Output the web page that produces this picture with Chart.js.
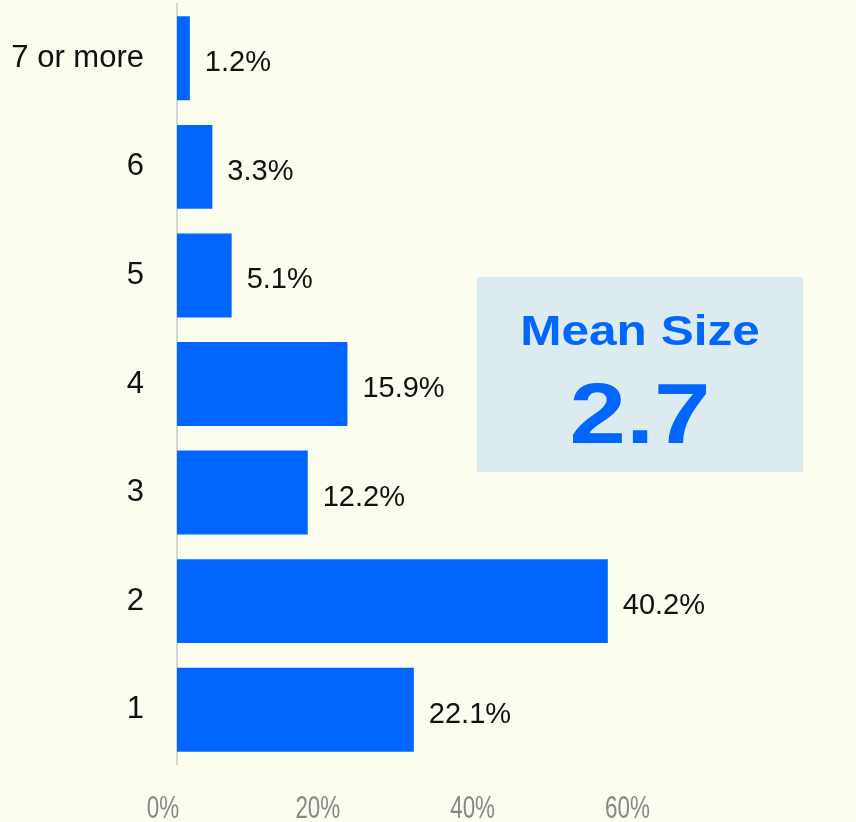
<!DOCTYPE html>
<html>
<head>
<meta charset="utf-8">
<script src="https://cdn.jsdelivr.net/npm/chart.js@4"></script>
<style>
  html, body { margin: 0; padding: 0; background: #fbfdef; }
  #wrap { position: relative; width: 856px; height: 822px; }
</style>
</head>
<body>
<div id="wrap"><canvas id="sizeChart" width="856" height="822"></canvas></div>
<script>
// household size categories, top to bottom
const categories = ['7 or more', '6', '5', '4', '3', '2', '1'];
const shares = [1.2, 3.3, 5.1, 15.9, 12.2, 40.2, 22.1];
const tickValues = [0, 20, 40, 60];
const meanLabel = 'Mean Size';
const meanValue = '2.7';

const BLUE = '#0066ff';

// value labels at the end of each bar
const valueLabels = {
  id: 'valueLabels',
  afterDatasetsDraw(chart) {
    const ctx = chart.ctx;
    const meta = chart.getDatasetMeta(0);
    ctx.save();
    ctx.font = '29px "Liberation Sans", Arial, sans-serif';
    ctx.fillStyle = '#111';
    ctx.textAlign = 'left';
    ctx.textBaseline = 'alphabetic';
    meta.data.forEach((bar, i) => {
      ctx.fillText(shares[i].toFixed(1) + '%', bar.x + 15, bar.y + 13);
    });
    ctx.restore();
  }
};

// narrow grey tick labels for the bottom axis
const narrowTicks = {
  id: 'narrowTicks',
  afterDraw(chart) {
    const ctx = chart.ctx;
    const scale = chart.scales.x2;
    ctx.save();
    ctx.font = '32px "Liberation Sans", Arial, sans-serif';
    ctx.fillStyle = '#888';
    ctx.textAlign = 'center';
    ctx.textBaseline = 'alphabetic';
    tickValues.forEach(v => {
      const px = scale.getPixelForValue(v);
      ctx.save();
      ctx.translate(px, 818);
      ctx.scale(0.7, 1);
      ctx.fillText(v + '%', 0, 0);
      ctx.restore();
    });
    ctx.restore();
  }
};

// "Mean Size" box
const meanBox = {
  id: 'meanBox',
  afterDraw(chart) {
    const ctx = chart.ctx;
    ctx.save();
    ctx.fillStyle = '#dcebef';
    ctx.fillRect(477, 277, 326, 195);
    ctx.fillStyle = BLUE;
    ctx.textAlign = 'center';
    ctx.textBaseline = 'alphabetic';
    ctx.translate(640, 0);
    ctx.scale(1.18, 1);
    ctx.font = 'bold 42px "Liberation Sans", Arial, sans-serif';
    ctx.fillText(meanLabel, 0, 345);
    ctx.font = 'bold 86px "Liberation Sans", Arial, sans-serif';
    ctx.fillText(meanValue, 0, 443);
    ctx.restore();
  }
};

const sizeChart = new Chart(document.getElementById('sizeChart'), {
  type: 'bar',
  data: {
    labels: categories,
    datasets: [{
      data: shares,
      backgroundColor: BLUE,
      borderWidth: 0,
      categoryPercentage: 1,
      barPercentage: 0.773,
      xAxisID: 'x',
      yAxisID: 'y'
    }]
  },
  options: {
    indexAxis: 'y',
    responsive: false,
    animation: false,
    devicePixelRatio: 1,
    layout: { padding: { top: 4, right: 36, bottom: 0, left: 0 } },
    plugins: {
      legend: { display: false },
      tooltip: { enabled: false }
    },
    scales: {
      x: {
        display: false,
        min: 0,
        max: 60
      },
      x2: {
        type: 'linear',
        position: 'bottom',
        min: 1.81,
        max: 84.88,
        afterBuildTicks: (scale) => {
          scale.ticks = tickValues.map(v => ({ value: v }));
        },
        afterFit: (scale) => {
          scale.height = 58;
          scale.paddingLeft = 0;
          scale.paddingRight = 0;
        },
        grid: { display: false, drawTicks: false },
        border: { display: false },
        ticks: { display: false }
      },
      y: {
        afterFit: (scale) => {
          scale.width = 177;
          scale.paddingTop = 0;
          scale.paddingBottom = 0;
        },
        grid: { display: false, drawTicks: false },
        border: { display: true, color: '#d6d6d6', width: 2 },
        ticks: {
          padding: 33,
          color: '#111',
          font: { family: '"Liberation Sans", Arial, sans-serif', size: 31 }
        }
      }
    }
  },
  plugins: [valueLabels, narrowTicks, meanBox]
});
</script>
</body>
</html>
